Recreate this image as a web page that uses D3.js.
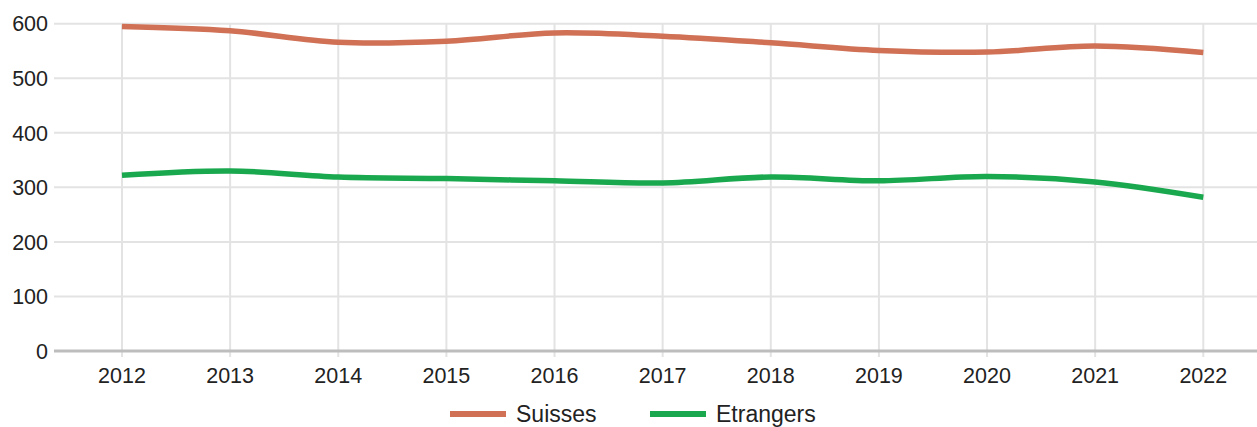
<!DOCTYPE html>
<html><head><meta charset="utf-8">
<script src="https://cdn.jsdelivr.net/npm/d3@7"></script>
<style>body{margin:0;background:#fff}svg{display:block}text{font-family:"Liberation Sans",Arial,sans-serif;fill:#222}</style>
</head><body><svg id="c" width="1257" height="427"></svg>
<script>
const years = [2012,2013,2014,2015,2016,2017,2018,2019,2020,2021,2022];
const suisses = [595,587,566,568,583,577,565,551,548,559,547];
const etrangers = [322,330,319,316,312,308,319,312,320,310,282];
const yTicks = [0,100,200,300,400,500,600];
const seriesNames = ["Suisses","Etrangers"];
const colors = ["#d07055","#1aa84f"];

const svg = d3.select("#c");
const x = d3.scaleLinear().domain([2012,2022]).range([122,1203.3]);
const y = d3.scaleLinear().domain([0,600]).range([351,23.7]);
const left = 54, right = 1257;
const fs = 21.5, lfs = 23;

// horizontal grid
svg.append("g").selectAll("line").data(yTicks.filter(d=>d>0)).join("line")
  .attr("x1",left).attr("x2",right).attr("y1",d=>y(d)).attr("y2",d=>y(d))
  .attr("stroke","#e3e3e3").attr("stroke-width",2);
// vertical grid
svg.append("g").selectAll("line").data(years).join("line")
  .attr("x1",d=>x(d)).attr("x2",d=>x(d)).attr("y1",y(600)).attr("y2",y(0)+6)
  .attr("stroke","#e3e3e3").attr("stroke-width",2);
// baseline
svg.append("line").attr("x1",left).attr("x2",right).attr("y1",y(0)).attr("y2",y(0))
  .attr("stroke","#bdbdbd").attr("stroke-width",3);

// y labels
svg.append("g").selectAll("text").data(yTicks).join("text")
  .attr("x",48).attr("y",d=>y(d)).attr("text-anchor","end").attr("dy","0.36em")
  .attr("font-size",fs).text(d=>d);
// x labels
svg.append("g").selectAll("text").data(years).join("text")
  .attr("x",d=>x(d)).attr("y",383).attr("text-anchor","middle")
  .attr("font-size",fs).text(d=>d);

const line = d3.line().x((d,i)=>x(years[i])).y(d=>y(d)).curve(d3.curveCatmullRom.alpha(0.5));
[suisses,etrangers].forEach((s,i)=>{
  svg.append("path").datum(s).attr("d",line).attr("fill","none")
    .attr("stroke",colors[i]).attr("stroke-width",5.5);
});

// legend
const lg = svg.append("g");
const lx = [450,650];
seriesNames.forEach((n,i)=>{
  lg.append("line").attr("x1",lx[i]).attr("x2",lx[i]+56).attr("y1",414).attr("y2",414)
    .attr("stroke",colors[i]).attr("stroke-width",6);
  lg.append("text").attr("x",lx[i]+66).attr("y",422)
    .attr("font-size",lfs).text(n);
});
</script></body></html>
